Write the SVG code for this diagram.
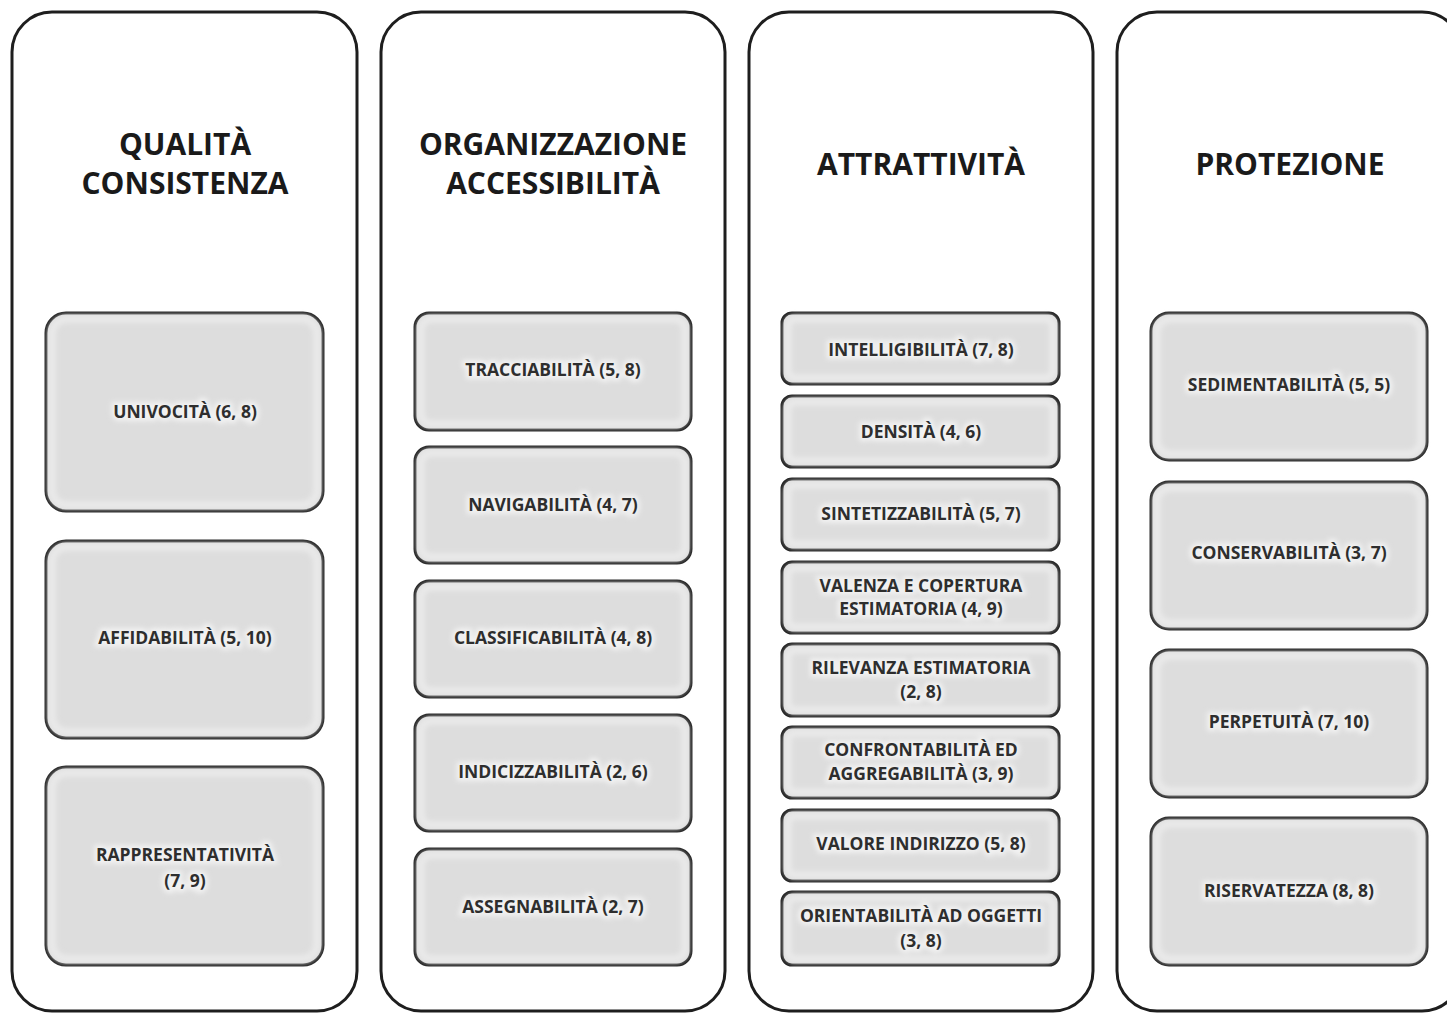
<svg xmlns="http://www.w3.org/2000/svg" width="1447" height="1013" viewBox="0 0 1447 1013">
  <style>
    .panel { fill: #ffffff; stroke: #1e1e1e; stroke-width: 3; }
    .box { fill: #dddddd; stroke: #1e1e1e; stroke-width: 3; }
    .inner { fill: none; stroke: #e9e9e9; stroke-width: 8; filter: url(#soft); }
    .title { font-family: "Open Sans", "Liberation Sans", sans-serif; font-weight: 700; font-size: 30px; fill: #1a1a1a; text-anchor: middle; }
    .label { font-family: "Open Sans", "Liberation Sans", sans-serif; font-weight: 700; font-size: 17.5px; fill: #2e2e2e; text-anchor: middle; }
    .glow { font-family: "Open Sans", "Liberation Sans", sans-serif; font-weight: 700; font-size: 17.5px; fill: #f2f2f2; stroke: #f2f2f2; stroke-width: 6; text-anchor: middle; filter: url(#soft); }
  </style>
  <defs>
    <filter id="soft" x="-20%" y="-60%" width="140%" height="220%">
      <feGaussianBlur stdDeviation="2.5"/>
    </filter>
  </defs>

  <!-- Column 1: quality / consistency -->
  <g id="col-qualita">
    <rect class="panel" x="12" y="12" width="345" height="999" rx="40"/>
    <text class="title" x="185" y="155">QUALITÀ</text>
    <text class="title" x="185" y="194">CONSISTENZA</text>
    <g id="univocita">
      <rect class="box" x="46" y="313" width="277" height="198" rx="20"/>
      <rect class="inner" x="52" y="319" width="265" height="186" rx="15"/>
      <text class="glow" x="185" y="418">UNIVOCITÀ (6, 8)</text>
      <text class="label" x="185" y="418">UNIVOCITÀ (6, 8)</text>
    </g>
    <g id="affidabilita">
      <rect class="box" x="46" y="541" width="277" height="197" rx="20"/>
      <rect class="inner" x="52" y="547" width="265" height="185" rx="15"/>
      <text class="glow" x="185" y="644">AFFIDABILITÀ (5, 10)</text>
      <text class="label" x="185" y="644">AFFIDABILITÀ (5, 10)</text>
    </g>
    <g id="rappresentativita">
      <rect class="box" x="46" y="767" width="277" height="198" rx="20"/>
      <rect class="inner" x="52" y="773" width="265" height="186" rx="15"/>
      <text class="glow" x="185" y="861">RAPPRESENTATIVITÀ</text>
      <text class="glow" x="185" y="887">(7, 9)</text>
      <text class="label" x="185" y="861">RAPPRESENTATIVITÀ</text>
      <text class="label" x="185" y="887">(7, 9)</text>
    </g>
  </g>

  <!-- Column 2: organisation / accessibility -->
  <g id="col-organizzazione">
    <rect class="panel" x="381" y="12" width="344" height="999" rx="40"/>
    <text class="title" x="553" y="155">ORGANIZZAZIONE</text>
    <text class="title" x="553" y="194">ACCESSIBILITÀ</text>
    <g id="tracciabilita">
      <rect class="box" x="415" y="313" width="276" height="117" rx="14"/>
      <rect class="inner" x="421" y="319" width="264" height="105" rx="10"/>
      <text class="glow" x="553" y="376">TRACCIABILITÀ (5, 8)</text>
      <text class="label" x="553" y="376">TRACCIABILITÀ (5, 8)</text>
    </g>
    <g id="navigabilita">
      <rect class="box" x="415" y="447" width="276" height="116" rx="14"/>
      <rect class="inner" x="421" y="453" width="264" height="104" rx="10"/>
      <text class="glow" x="553" y="511">NAVIGABILITÀ (4, 7)</text>
      <text class="label" x="553" y="511">NAVIGABILITÀ (4, 7)</text>
    </g>
    <g id="classificabilita">
      <rect class="box" x="415" y="581" width="276" height="116" rx="14"/>
      <rect class="inner" x="421" y="587" width="264" height="104" rx="10"/>
      <text class="glow" x="553" y="644">CLASSIFICABILITÀ (4, 8)</text>
      <text class="label" x="553" y="644">CLASSIFICABILITÀ (4, 8)</text>
    </g>
    <g id="indicizzabilita">
      <rect class="box" x="415" y="715" width="276" height="116" rx="14"/>
      <rect class="inner" x="421" y="721" width="264" height="104" rx="10"/>
      <text class="glow" x="553" y="778">INDICIZZABILITÀ (2, 6)</text>
      <text class="label" x="553" y="778">INDICIZZABILITÀ (2, 6)</text>
    </g>
    <g id="assegnabilita">
      <rect class="box" x="415" y="849" width="276" height="116" rx="14"/>
      <rect class="inner" x="421" y="855" width="264" height="104" rx="10"/>
      <text class="glow" x="553" y="913">ASSEGNABILITÀ (2, 7)</text>
      <text class="label" x="553" y="913">ASSEGNABILITÀ (2, 7)</text>
    </g>
  </g>

  <!-- Column 3: attractiveness -->
  <g id="col-attrattivita">
    <rect class="panel" x="749" y="12" width="344" height="999" rx="40"/>
    <text class="title" x="921" y="175">ATTRATTIVITÀ</text>
    <g id="intelligibilita">
      <rect class="box" x="782" y="313" width="277" height="71" rx="10"/>
      <rect class="inner" x="788" y="319" width="265" height="59" rx="7"/>
      <text class="glow" x="921" y="356">INTELLIGIBILITÀ (7, 8)</text>
      <text class="label" x="921" y="356">INTELLIGIBILITÀ (7, 8)</text>
    </g>
    <g id="densita">
      <rect class="box" x="782" y="396" width="277" height="71" rx="10"/>
      <rect class="inner" x="788" y="402" width="265" height="59" rx="7"/>
      <text class="glow" x="921" y="438">DENSITÀ (4, 6)</text>
      <text class="label" x="921" y="438">DENSITÀ (4, 6)</text>
    </g>
    <g id="sintetizzabilita">
      <rect class="box" x="782" y="479" width="277" height="71" rx="10"/>
      <rect class="inner" x="788" y="485" width="265" height="59" rx="7"/>
      <text class="glow" x="921" y="520">SINTETIZZABILITÀ (5, 7)</text>
      <text class="label" x="921" y="520">SINTETIZZABILITÀ (5, 7)</text>
    </g>
    <g id="valenza">
      <rect class="box" x="782" y="562" width="277" height="71" rx="10"/>
      <rect class="inner" x="788" y="568" width="265" height="59" rx="7"/>
      <text class="glow" x="921" y="592">VALENZA E COPERTURA</text>
      <text class="glow" x="921" y="615">ESTIMATORIA (4, 9)</text>
      <text class="label" x="921" y="592">VALENZA E COPERTURA</text>
      <text class="label" x="921" y="615">ESTIMATORIA (4, 9)</text>
    </g>
    <g id="rilevanza">
      <rect class="box" x="782" y="644" width="277" height="72" rx="10"/>
      <rect class="inner" x="788" y="650" width="265" height="60" rx="7"/>
      <text class="glow" x="921" y="674">RILEVANZA ESTIMATORIA</text>
      <text class="glow" x="921" y="698">(2, 8)</text>
      <text class="label" x="921" y="674">RILEVANZA ESTIMATORIA</text>
      <text class="label" x="921" y="698">(2, 8)</text>
    </g>
    <g id="confrontabilita">
      <rect class="box" x="782" y="727" width="277" height="71" rx="10"/>
      <rect class="inner" x="788" y="733" width="265" height="59" rx="7"/>
      <text class="glow" x="921" y="756">CONFRONTABILITÀ ED</text>
      <text class="glow" x="921" y="780">AGGREGABILITÀ (3, 9)</text>
      <text class="label" x="921" y="756">CONFRONTABILITÀ ED</text>
      <text class="label" x="921" y="780">AGGREGABILITÀ (3, 9)</text>
    </g>
    <g id="valore-indirizzo">
      <rect class="box" x="782" y="810" width="277" height="71" rx="10"/>
      <rect class="inner" x="788" y="816" width="265" height="59" rx="7"/>
      <text class="glow" x="921" y="850">VALORE INDIRIZZO (5, 8)</text>
      <text class="label" x="921" y="850">VALORE INDIRIZZO (5, 8)</text>
    </g>
    <g id="orientabilita">
      <rect class="box" x="782" y="892" width="277" height="73" rx="10"/>
      <rect class="inner" x="788" y="898" width="265" height="61" rx="7"/>
      <text class="glow" x="921" y="922">ORIENTABILITÀ AD OGGETTI</text>
      <text class="glow" x="921" y="947">(3, 8)</text>
      <text class="label" x="921" y="922">ORIENTABILITÀ AD OGGETTI</text>
      <text class="label" x="921" y="947">(3, 8)</text>
    </g>
  </g>

  <!-- Column 4: protection -->
  <g id="col-protezione">
    <rect class="panel" x="1117" y="12" width="345" height="999" rx="40"/>
    <text class="title" x="1290" y="175">PROTEZIONE</text>
    <g id="sedimentabilita">
      <rect class="box" x="1151" y="313" width="276" height="147" rx="18"/>
      <rect class="inner" x="1157" y="319" width="264" height="135" rx="13"/>
      <text class="glow" x="1289" y="391">SEDIMENTABILITÀ (5, 5)</text>
      <text class="label" x="1289" y="391">SEDIMENTABILITÀ (5, 5)</text>
    </g>
    <g id="conservabilita">
      <rect class="box" x="1151" y="482" width="276" height="147" rx="18"/>
      <rect class="inner" x="1157" y="488" width="264" height="135" rx="13"/>
      <text class="glow" x="1289" y="559">CONSERVABILITÀ (3, 7)</text>
      <text class="label" x="1289" y="559">CONSERVABILITÀ (3, 7)</text>
    </g>
    <g id="perpetuita">
      <rect class="box" x="1151" y="650" width="276" height="147" rx="18"/>
      <rect class="inner" x="1157" y="656" width="264" height="135" rx="13"/>
      <text class="glow" x="1289" y="728">PERPETUITÀ (7, 10)</text>
      <text class="label" x="1289" y="728">PERPETUITÀ (7, 10)</text>
    </g>
    <g id="riservatezza">
      <rect class="box" x="1151" y="818" width="276" height="147" rx="18"/>
      <rect class="inner" x="1157" y="824" width="264" height="135" rx="13"/>
      <text class="glow" x="1289" y="897">RISERVATEZZA (8, 8)</text>
      <text class="label" x="1289" y="897">RISERVATEZZA (8, 8)</text>
    </g>
  </g>
</svg>
